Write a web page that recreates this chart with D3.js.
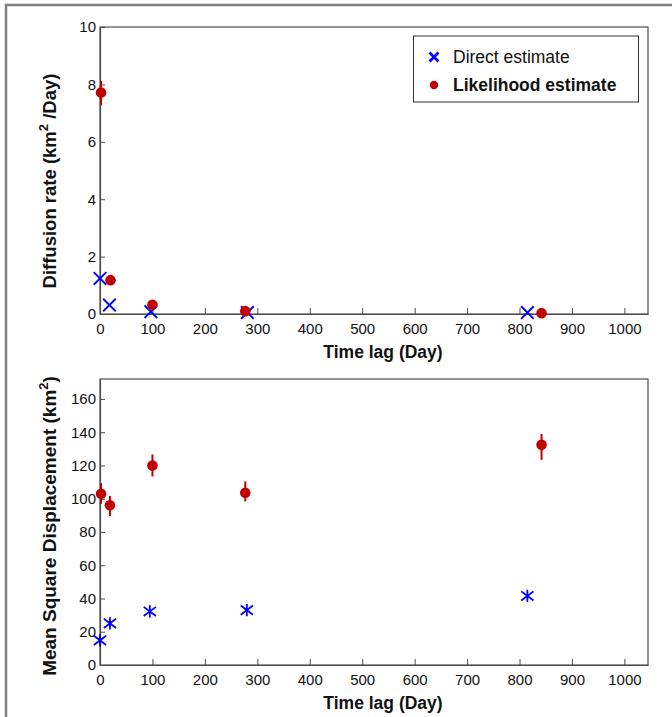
<!DOCTYPE html>
<html>
<head>
<meta charset="utf-8">
<script src="https://cdn.jsdelivr.net/npm/d3@7"></script>
<style>
  html, body { margin: 0; padding: 0; background: #fff; }
  svg { display: block; font-family: "Liberation Sans", Arial, sans-serif; }
</style>
</head>
<body>
<svg id="chart" width="672" height="717"></svg>
<script>
// ---- data ----
const xTicks = [0, 100, 200, 300, 400, 500, 600, 700, 800, 900, 1000];
const topYTicks = [0, 2, 4, 6, 8, 10];
const botYTicks = [0, 20, 40, 60, 80, 100, 120, 140, 160];

// Diffusion rate panel
const directLag = [0, 18, 97, 281, 815];
const directRate = [1.24, 0.31, 0.08, 0.05, 0.05];
const likeLag = [2, 20, 100, 277, 842];
const likeRate = [7.72, 1.18, 0.32, 0.10, 0.03];
const likeRateLo = [7.27, 1.18, 0.32, 0.10, 0.03];
const likeRateHi = [8.12, 1.18, 0.32, 0.10, 0.03];

// Mean square displacement panel
const msdDirectLag = [0, 19, 95, 280, 815];
const msdDirect = [14.8, 25, 32.2, 33, 41.5];
const msdLikeLag = [2, 19, 100, 277, 842];
const msdLike = [103, 96, 120, 103.6, 132.4];
const msdLikeLo = [97, 89.6, 113.4, 98.4, 123.4];
const msdLikeHi = [109.4, 101.6, 126.6, 110.4, 139];

const legendLabels = ["Direct estimate", "Likelihood estimate"];

// ---- drawing ----
const svg = d3.select("#chart");
const BLUE = "#0000ff", RED = "#c00000", AX = "#4d4d4d";

// outer frame
svg.append("path").attr("d", "M6,720 L6,5 L680,5")
  .attr("fill", "none").attr("stroke", "#808080").attr("stroke-width", 2.5);

const crossSym = { draw(ctx, size) { const r = Math.sqrt(size) / 2;
  ctx.moveTo(-r, -r); ctx.lineTo(r, r); ctx.moveTo(-r, r); ctx.lineTo(r, -r); } };
const starSym = { draw(ctx, size) { const r = Math.sqrt(size) / 2;
  ctx.moveTo(-r, -r * 0.75); ctx.lineTo(r, r * 0.75); ctx.moveTo(-r, r * 0.75); ctx.lineTo(r, -r * 0.75);
  ctx.moveTo(0, -r); ctx.lineTo(0, r); } };

function panel(cfg) {
  const x = d3.scaleLinear().domain([0, 1045]).range([100, 648]);
  const y = d3.scaleLinear().domain([0, cfg.yMax]).range([cfg.bottom, cfg.top]);
  const g = svg.append("g");

  // box
  g.append("rect").attr("x", 100).attr("y", cfg.top).attr("width", 548).attr("height", cfg.bottom - cfg.top)
    .attr("fill", "none").attr("stroke", AX).attr("stroke-width", 1.2);

  const xa = g.append("g").attr("transform", `translate(0,${cfg.bottom})`)
    .call(d3.axisBottom(x).tickValues(xTicks).tickFormat(d3.format("d"))
      .tickSizeInner(-6).tickSizeOuter(0).tickPadding(9));
  const ya = g.append("g").attr("transform", "translate(100,0)")
    .call(d3.axisLeft(y).tickValues(cfg.yTicks).tickFormat(d3.format("d"))
      .tickSizeInner(-5).tickSizeOuter(0).tickPadding(4));
  [xa, ya].forEach(a => {
    a.select(".domain").attr("stroke", AX).attr("stroke-width", 1.2);
    a.selectAll(".tick line").attr("stroke", AX);
    a.selectAll(".tick text").attr("font-size", 15).attr("fill", "#111")
      .attr("font-family", "Liberation Sans, Arial, sans-serif");
  });

  // x title
  g.append("text").attr("x", 383).attr("y", cfg.bottom + 44).attr("text-anchor", "middle")
    .attr("font-size", 17.5).attr("font-weight", "bold").attr("fill", "#111").text("Time lag (Day)");

  // y title
  const yt = g.append("text").attr("transform", `translate(56,${cfg.yLabelY}) rotate(-90)`)
    .attr("text-anchor", "middle").attr("font-size", cfg.yLabelSize).attr("font-weight", "bold").attr("fill", "#111");
  cfg.yLabel.forEach(p => {
    const t = yt.append("tspan").text(p.t);
    if (p.sup) t.attr("font-size", 13).attr("dy", -8);
    if (p.after) t.attr("dy", 8);
  });

  // error bars (likelihood)
  g.selectAll(".err").data(cfg.likeLag).join("line")
    .attr("x1", (d) => x(d)).attr("x2", (d) => x(d))
    .attr("y1", (d, i) => y(cfg.likeLo[i])).attr("y2", (d, i) => y(cfg.likeHi[i]))
    .attr("stroke", RED).attr("stroke-width", 2);

  // direct markers
  g.selectAll(".dir").data(cfg.dirLag).join("path")
    .attr("transform", (d, i) => `translate(${x(d)},${y(cfg.dirVal[i])})`)
    .attr("d", d3.symbol().type(cfg.dirSym).size(cfg.dirSize))
    .attr("fill", "none").attr("stroke", BLUE).attr("stroke-width", cfg.dirStroke);

  // likelihood dots
  g.selectAll(".lik").data(cfg.likeLag).join("circle")
    .attr("cx", (d) => x(d)).attr("cy", (d, i) => y(cfg.likeVal[i])).attr("r", 5.3)
    .attr("fill", RED);
  return g;
}

panel({
  top: 27, bottom: 314, yMax: 10, yTicks: topYTicks, yLabelY: 181, yLabelSize: 18.5,
  yLabel: [{ t: "Diffusion rate (km" }, { t: "2", sup: true }, { t: " /Day)", after: true }],
  dirLag: directLag, dirVal: directRate, dirSym: crossSym, dirSize: 160, dirStroke: 1.9,
  likeLag: likeLag, likeVal: likeRate, likeLo: likeRateLo, likeHi: likeRateHi
});

panel({
  top: 379, bottom: 665, yMax: 172, yTicks: botYTicks, yLabelY: 526, yLabelSize: 19,
  yLabel: [{ t: "Mean Square Displacement (km" }, { t: "2", sup: true }, { t: ")", after: true }],
  dirLag: msdDirectLag, dirVal: msdDirect, dirSym: starSym, dirSize: 150, dirStroke: 1.8,
  likeLag: msdLikeLag, likeVal: msdLike, likeLo: msdLikeLo, likeHi: msdLikeHi
});

// legend
const lg = svg.append("g");
lg.append("rect").attr("x", 413.5).attr("y", 36).attr("width", 225).attr("height", 66)
  .attr("fill", "#fff").attr("stroke", "#333").attr("stroke-width", 1);
lg.append("path").attr("transform", "translate(434,57)")
  .attr("d", d3.symbol().type(crossSym).size(80)).attr("fill", "none")
  .attr("stroke", BLUE).attr("stroke-width", 2.8);
lg.append("circle").attr("cx", 434).attr("cy", 85).attr("r", 4.2).attr("fill", RED);
lg.selectAll(".lt").data(legendLabels).join("text")
  .attr("x", 453).attr("y", (d, i) => 63 + i * 28)
  .attr("font-size", 17.5).attr("font-weight", (d, i) => i === 1 ? "bold" : "normal")
  .attr("fill", "#111").text(d => d);
</script>
</body>
</html>
